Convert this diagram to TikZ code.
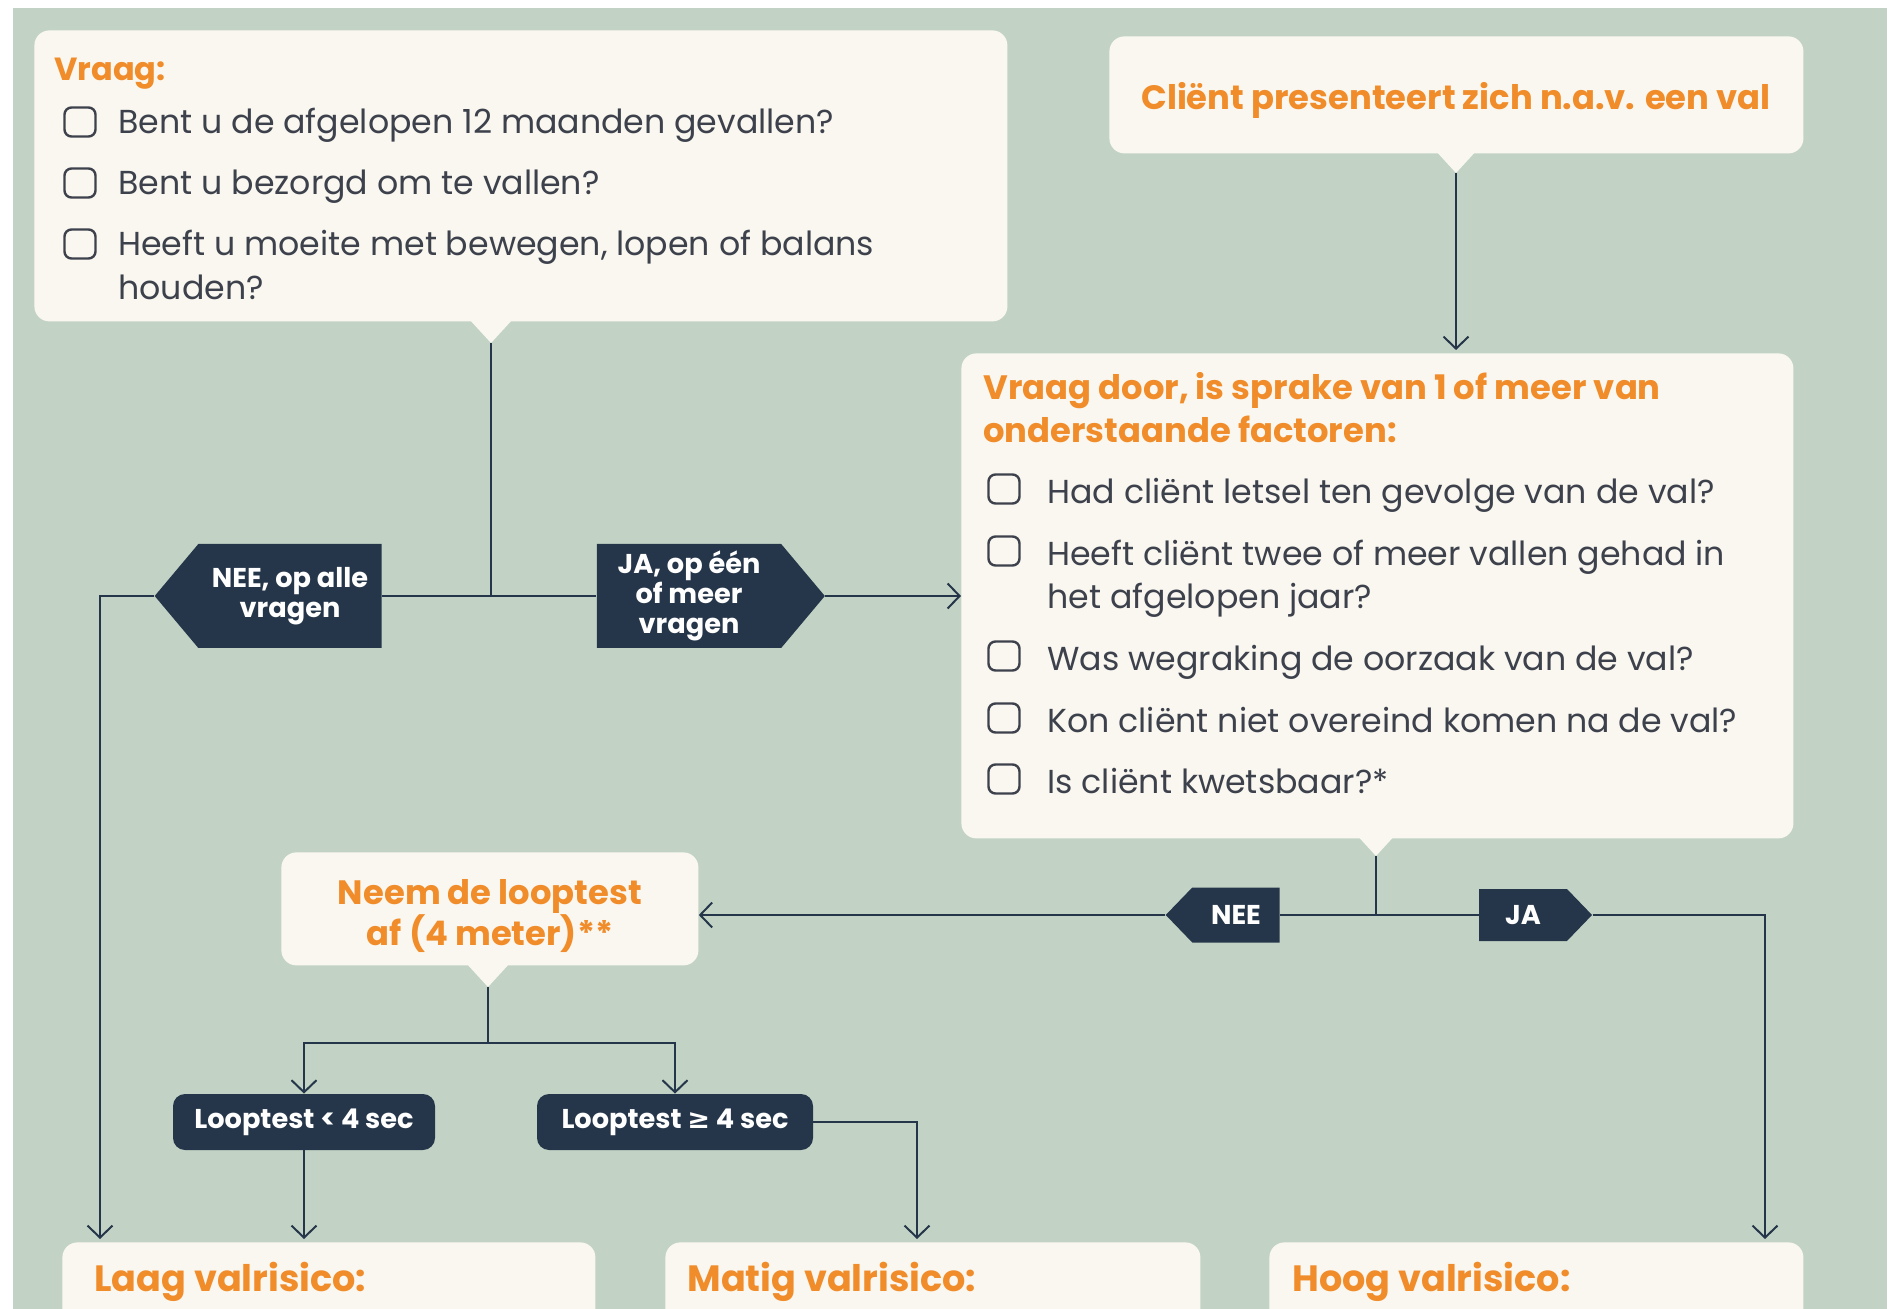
\documentclass[tikz,border=0pt]{standalone}
\usepackage{fontspec}
\setmainfont{Poppins}
\newfontfamily\symfont{DejaVu Sans}
\usetikzlibrary{positioning, arrows.meta, calc, shapes.geometric, shapes.symbols}

\definecolor{bggreen}{HTML}{C2D3C6}
\definecolor{cream}{HTML}{FAF7F0}
\definecolor{valorange}{HTML}{F08C2A}
\definecolor{navy}{HTML}{26364A}
\definecolor{txtgrey}{HTML}{3C414C}

\def\pxu{0.5pt}

\tikzset{
    card/.style={fill=cream, rounded corners=7.5pt, inner sep=0pt, anchor=north west},
    kop/.style={text=valorange, font=\fontsize{16.9}{18}\selectfont\bfseries, inner sep=0pt, text height=1ex, text depth=0pt, yshift=-3pt},
    uitkomst/.style={kop, anchor=west, font=\fontsize{18.3}{20}\selectfont\bfseries},
    vraagline/.style={text=txtgrey, font=\fontsize{16.6}{20}\selectfont, inner sep=0pt, anchor=west, text height=1ex, text depth=0pt, yshift=-3pt},
    chkbox/.style={draw=txtgrey, line width=1.2pt, rounded corners=3.5pt, minimum width=31*\pxu, minimum height=29*\pxu, inner sep=0pt},
    tagtext/.style={text=white, font=\fontsize{13.6}{15}\selectfont\bfseries, align=center, inner sep=0pt},
    answer/.style={signal, fill=navy, tagtext, signal pointer angle=100},
    testbox/.style={fill=navy, tagtext, rounded corners=6pt, minimum width=262*\pxu, minimum height=56*\pxu},
    flow/.style={draw=navy, line width=1pt},
    arr/.style={flow, -{Straight Barb[length=6pt, width=12.5pt, line width=1pt]}},
}

\newcommand{\calloutpointer}[1]{\fill[cream] ($(#1)+(-22,-24)$) -- ($(#1)+(22,-24)$) -- (#1) -- cycle;}

\begin{document}
\begin{tikzpicture}[x=0.5pt, y=-0.5pt]
    % --- canvas ---
    \fill[white] (0,0) rectangle (1900,1309);
    \useasboundingbox (0,0) rectangle (1900,1309);
    \fill[bggreen] (13,8) rectangle (1887,1309);

    % --- screening questions ---
    \node[card, minimum width=973*\pxu, minimum height=291*\pxu] (vraag) at (34,30) {};
    \coordinate (vraagtip) at (491,343);
    \calloutpointer{vraagtip}
    \node[kop, anchor=west, font=\fontsize{16}{18}\selectfont\bfseries] (vraagkop) at (54,69) {Vraag:};
    \foreach \y/\t [count=\i] in {122/{Bent u de afgelopen 12 maanden gevallen?}, 183/{Bent u bezorgd om te vallen?}, 244/{Heeft u moeite met bewegen, lopen of balans}} {
        \node[chkbox] (vchk\i) at (80,\y) {};
        \node[vraagline] (vq\i) at (118,\y) {\t};
    }
    \node[vraagline] (vq3b) at (118,288) {houden?};

    % --- presentation after a fall ---
    \node[card, minimum width=694*\pxu, minimum height=117*\pxu] (client) at (1109,36) {};
    \coordinate (clienttip) at (1456,173);
    \calloutpointer{clienttip}
    \node[kop] (clientkop) at (1456,98) {Cliënt presenteert zich n.a.v. een val};

    % --- follow-up questions ---
    \node[card, minimum width=832*\pxu, minimum height=485*\pxu] (doorvraag) at (961,353) {};
    \coordinate (doortip) at (1376,856);
    \calloutpointer{doortip}
    \node[kop, anchor=west] (doorkop1) at (983,388) {Vraag door, is sprake van 1 of meer van};
    \node[kop, anchor=west] (doorkop2) at (983,431) {onderstaande factoren:};
    \foreach \y/\t [count=\i] in {492/{Had cliënt letsel ten gevolge van de val?}, 554/{Heeft cliënt twee of meer vallen gehad in}, 659/{Was wegraking de oorzaak van de val?}, 721/{Kon cliënt niet overeind komen na de val?}, 782/{Is cliënt kwetsbaar?*}} {
        \node[chkbox] (dchk\i) at (1004,\y-3) {};
        \node[vraagline] (dq\i) at (1047,\y) {\t};
    }
    \node[vraagline] (dq2b) at (1047,597) {het afgelopen jaar?};

    % --- answers first question ---
    \node[answer, signal to=west, minimum width=227*\pxu, minimum height=104*\pxu] (neealle) at (290,596) {NEE, op alle\\vragen};
    \node[answer, signal to=east, minimum width=228*\pxu, minimum height=104*\pxu] (jameer) at (689,596) {JA, op één\\of meer\\vragen};

    % --- answers follow-up ---
    \node[answer, signal to=west, signal pointer angle=92, minimum width=114*\pxu, minimum height=55*\pxu] (nee2) at (1236,915) {NEE};
    \node[answer, signal to=east, signal pointer angle=92, minimum width=113*\pxu, minimum height=52*\pxu] (ja2) at (1523,915) {JA};

    % --- walking test ---
    \node[card, minimum width=417*\pxu, minimum height=113*\pxu] (looptest) at (281,852) {};
    \coordinate (looptip) at (488,987);
    \calloutpointer{looptip}
    \node[kop, align=center, text height=, text depth=] (loopkop) at (490,910) {Neem de looptest\\af (4 meter)**};
    \node[testbox] (kort) at (304,1122) {Looptest < 4 sec};
    \node[testbox, minimum width=276*\pxu] (lang) at (675,1122) {Looptest {\symfont ≥} 4 sec};

    % --- outcome ---
    \node[card, minimum width=533*\pxu, minimum height=140*\pxu] (laag) at (62,1242) {};
    \node[card, minimum width=535*\pxu, minimum height=140*\pxu] (matig) at (665,1242) {};
    \node[card, minimum width=534*\pxu, minimum height=140*\pxu] (hoog) at (1269,1242) {};
    \node[uitkomst] (laagkop) at (94,1280) {Laag valrisico:};
    \node[uitkomst] (matigkop) at (687,1280) {Matig valrisico:};
    \node[uitkomst] (hoogkop) at (1292,1280) {Hoog valrisico:};

    % --- connectors ---
    \draw[flow] (vraagtip) -- (vraagtip |- neealle.east);
    \draw[flow] (neealle.east) -- (jameer.west);
    \draw[arr] (jameer.east) -- (jameer.east -| doorvraag.west);
    \coordinate (leftrail) at (100,596);
    \draw[arr] (neealle.west) -- (leftrail) -- ($(leftrail |- laag.north)+(0,-3)$);
    \draw[arr] (clienttip) -- ($(clienttip |- doorvraag.north)+(0,-3)$);
    \draw[flow] (doortip) -- (doortip |- nee2.east);
    \draw[flow] (nee2.east) -- (ja2.west);
    \draw[arr] (nee2.west) -- (nee2.west -| looptest.east);
    \coordinate (rightrail) at (1765,915);
    \draw[arr] (ja2.east) -- (rightrail) -- ($(rightrail |- hoog.north)+(0,-3)$);
    \coordinate (splitpt) at (488,1043);
    \draw[flow] (looptip) -- (splitpt);
    \draw[arr] (splitpt) -| (kort.north);
    \draw[arr] (splitpt) -| (lang.north);
    \draw[arr] (kort.south) -- ($(kort.south |- laag.north)+(0,-3)$);
    \coordinate (matigrail) at (917,1122);
    \draw[arr] (lang.east) -- (matigrail) -- ($(matigrail |- matig.north)+(0,-3)$);
\end{tikzpicture}
\end{document}
